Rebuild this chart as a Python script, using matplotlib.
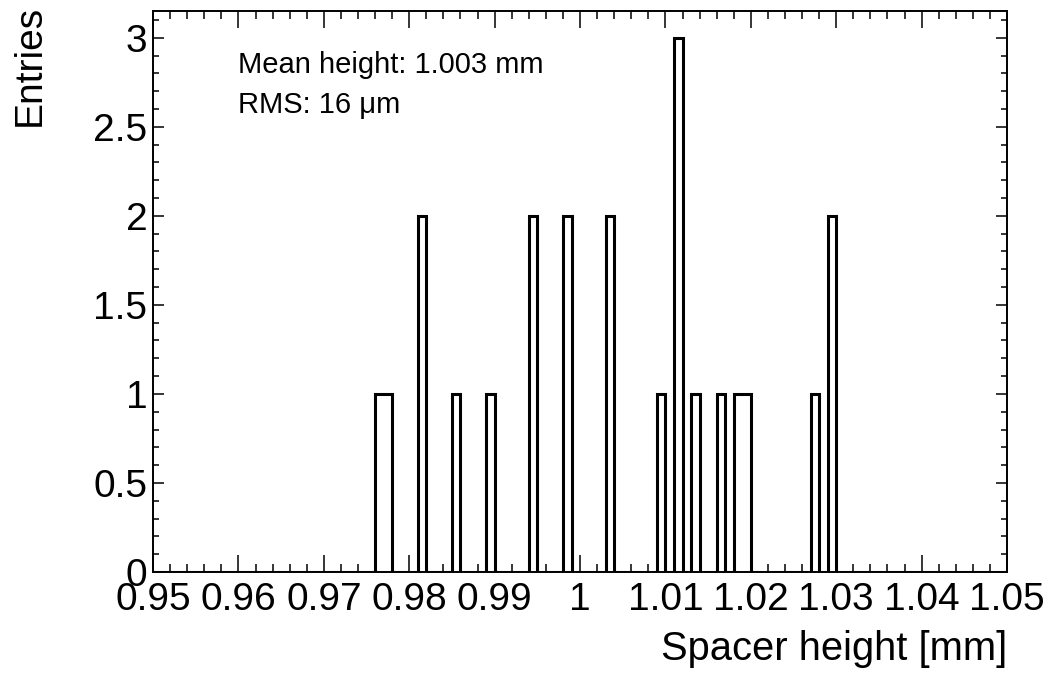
import numpy as np
import matplotlib
matplotlib.use("Agg")
import matplotlib.pyplot as plt
from matplotlib.ticker import MultipleLocator, FuncFormatter

# spacer heights histogram: 100 bins from 0.95 to 1.05 mm
x_min, x_max, n_bins = 0.95, 1.05, 100
bin_low = [0.976, 0.977, 0.981, 0.985, 0.989, 0.994, 0.998, 1.003,
           1.009, 1.011, 1.013, 1.016, 1.018, 1.019, 1.027, 1.029]
bin_count = [1, 1, 2, 1, 1, 2, 2, 2,
             1, 3, 1, 1, 1, 1, 1, 2]
x_ticks = [0.95, 0.96, 0.97, 0.98, 0.99, 1.0, 1.01, 1.02, 1.03, 1.04, 1.05]
y_ticks = [0, 0.5, 1, 1.5, 2, 2.5, 3]
y_max = 3.15

plt.rcParams['font.family'] = ['Liberation Sans', 'DejaVu Sans']

edges = np.linspace(x_min, x_max, n_bins + 1)
counts = np.zeros(n_bins)
idx = np.round((np.array(bin_low) - x_min) / (x_max - x_min) * n_bins).astype(int)
counts[idx] = bin_count

fig = plt.figure(figsize=(10.49, 6.74), dpi=100)
ax = fig.add_axes([0.1459, 0.1513, 0.8141, 0.8324])

ax.stairs(counts, edges, baseline=0, fill=False, color='black', linewidth=2.2)

ax.set_xlim(x_min, x_max)
ax.set_ylim(0, y_max)
ax.set_xticks(x_ticks)
ax.set_yticks(y_ticks)
ax.xaxis.set_minor_locator(MultipleLocator(0.002))
ax.yaxis.set_minor_locator(MultipleLocator(0.1))
fmt = FuncFormatter(lambda v, p: f"{v:g}")
ax.xaxis.set_major_formatter(fmt)
ax.yaxis.set_major_formatter(fmt)

ax.tick_params(which='both', direction='in', top=True, right=True, width=1.1, labelsize=28)
ax.tick_params(axis='x', which='major', length=12, pad=7)
ax.tick_params(axis='x', which='minor', length=6)
ax.tick_params(axis='y', which='major', length=8, pad=4)
ax.tick_params(axis='y', which='minor', length=4)
for s in ax.spines.values():
    s.set_linewidth(1.4)

fig.text(1007 / 1049, 1 - 660 / 674, "Spacer height [mm]", ha='right', va='baseline', fontsize=28.7)
fig.text(0.011, 0.993, "Entries", rotation=90, ha='left', va='top', fontsize=28)

fig.text(238 / 1049, 1 - 73 / 674, "Mean height: 1.003 mm", ha='left', va='baseline', fontsize=21)
fig.text(238 / 1049, 1 - 113 / 674, "RMS: 16 \u03bcm", ha='left', va='baseline', fontsize=21)

fig.savefig("out.png", dpi=100)
